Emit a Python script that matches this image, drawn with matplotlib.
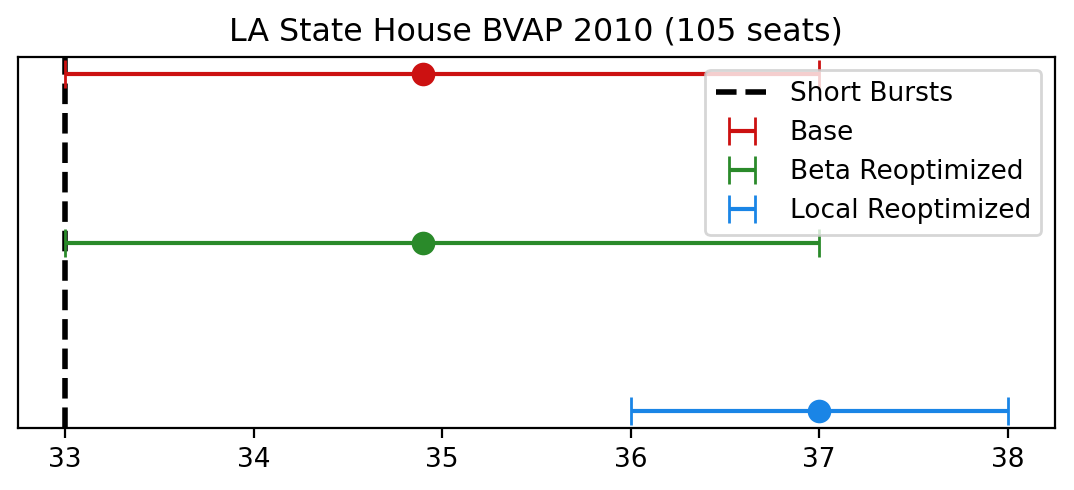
import matplotlib
matplotlib.use("Agg")
import matplotlib.pyplot as plt

plt.rcParams["font.size"] = 9.5

# Data
methods = ["Base", "Beta Reoptimized", "Local Reoptimized"]
means = [34.9, 34.9, 37.0]
lows = [33, 33, 36]
highs = [37, 37, 38]
rows = [2, 1, 0]
colors = ["#cc1111", "#2a8a2a", "#1a85e6"]
short_bursts = 33

fig, ax = plt.subplots(figsize=(5.37, 2.45), dpi=200)
fig.subplots_adjust(left=0.0168, right=0.982, top=0.8837, bottom=0.1265)

sb = ax.axvline(short_bursts, color="black", linestyle="--", linewidth=2, label="Short Bursts")

handles = [sb]
for name, m, lo, hi, y, c in zip(methods, means, lows, highs, rows, colors):
    h = ax.errorbar(m, y, xerr=[[m - lo], [hi - m]], fmt="none", ecolor=c,
                    elinewidth=1.5, capsize=5, label=name)
    ax.plot(m, y, "o", color=c, markersize=7.5)
    handles.append(h)

ax.set_yticks([])
ax.set_xticks([33, 34, 35, 36, 37, 38])
ax.set_title("LA State House BVAP 2010 (105 seats)")
ax.legend(handles=handles, loc="upper right")

fig.savefig("out.png", dpi=200)
